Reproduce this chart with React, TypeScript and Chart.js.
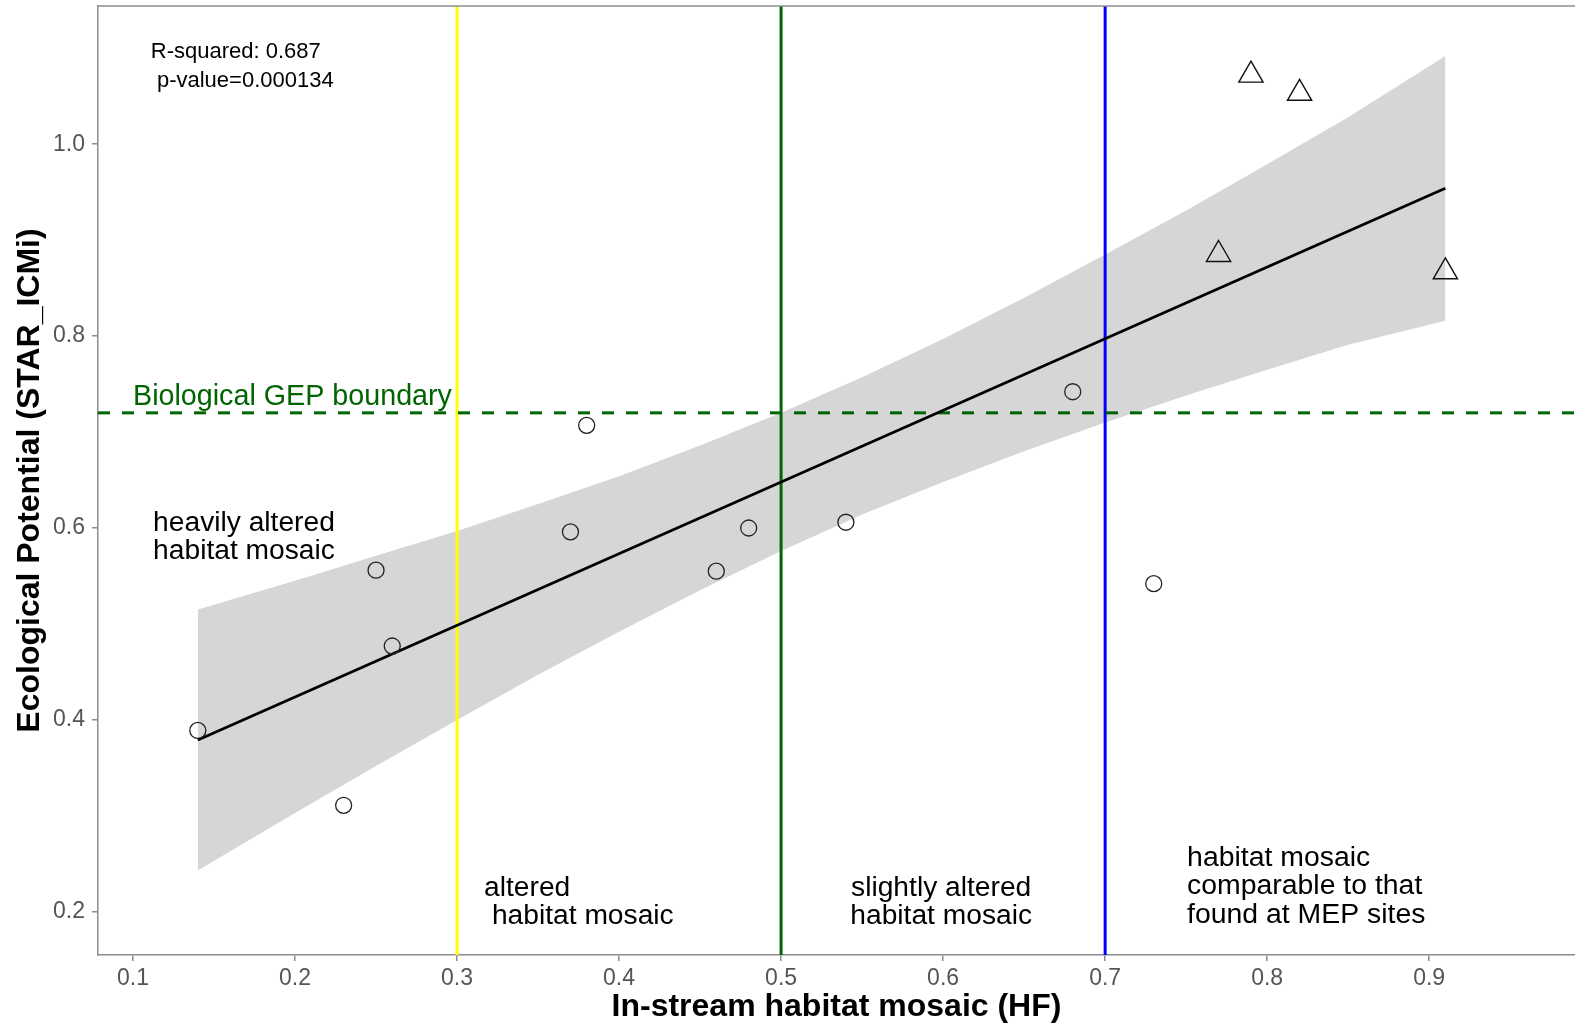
import React, { useEffect, useRef } from "react";
import { Chart, registerables } from "chart.js";

Chart.register(...registerables);

// ---- axis ranges & ticks ----
const xMin = 0.0784;
const xMax = 0.99;
const yMin = 0.155;
const yMax = 1.144;
const xTicks = [0.1, 0.2, 0.3, 0.4, 0.5, 0.6, 0.7, 0.8, 0.9];
const yTicks = [0.2, 0.4, 0.6, 0.8, 1.0];

// ---- observed sites (circles) ----
const circleX = [0.14, 0.23, 0.25, 0.26, 0.37, 0.38, 0.46, 0.48, 0.54, 0.68, 0.73];
const circleY = [0.389, 0.311, 0.556, 0.477, 0.596, 0.707, 0.555, 0.6, 0.606, 0.742, 0.542];

// ---- MEP sites (triangles) ----
const triangleX = [0.77, 0.79, 0.82, 0.91];
const triangleY = [0.885, 1.072, 1.053, 0.867];

// ---- regression fit and confidence band ----
const fitX = [0.14, 0.91];
const fitY = [0.379, 0.954];
const bandX = [0.14, 0.2, 0.25, 0.3, 0.35, 0.4, 0.45, 0.5, 0.55, 0.6, 0.65, 0.7, 0.75, 0.8, 0.85, 0.91];
const bandUpper = [0.515, 0.545, 0.571, 0.597, 0.625, 0.654, 0.686, 0.72, 0.757, 0.797, 0.84, 0.885, 0.931, 0.979, 1.028, 1.092];
const bandLower = [0.243, 0.303, 0.352, 0.4, 0.447, 0.492, 0.535, 0.576, 0.614, 0.648, 0.68, 0.71, 0.738, 0.765, 0.791, 0.816];

// ---- reference lines ----
const vLineX = [0.3, 0.5, 0.7];
const vLineColors = ["#ffff00", "#006400", "#0000ff"];
const gepY = 0.72;

// ---- texts ----
const xTitle = "In-stream habitat mosaic (HF)";
const yTitle = "Ecological Potential (STAR_ICMi)";

const FONT = "'Liberation Sans', Arial, Helvetica, sans-serif";
const AXIS_COLOR = "#8c8c8c";

type Annot = {
  lines: string[];
  x: number;
  y: number;
  align: CanvasTextAlign;
  size: number;
  lineHeight: number;
  color: string;
};

const annotations: Annot[] = [
  { lines: ["R-squared: 0.687", " p-value=0.000134"], x: 0.111, y: 1.0896, align: "left", size: 22, lineHeight: 29, color: "#000" },
  { lines: ["Biological GEP boundary"], x: 0.1, y: 0.728, align: "left", size: 28.7, lineHeight: 28, color: "#006400" },
  { lines: ["heavily altered", "habitat mosaic"], x: 0.1685, y: 0.5969, align: "center", size: 28.2, lineHeight: 28, color: "#000" },
  { lines: ["altered", " habitat mosaic"], x: 0.3167, y: 0.2167, align: "left", size: 28.2, lineHeight: 28, color: "#000" },
  { lines: ["slightly altered", "habitat mosaic"], x: 0.5988, y: 0.2167, align: "center", size: 28.2, lineHeight: 28, color: "#000" },
  { lines: ["habitat mosaic", "comparable to that", "found at MEP sites"], x: 0.7506, y: 0.2479, align: "left", size: 28.4, lineHeight: 28.5, color: "#000" },
];

const annotationPlugin = {
  id: "annotationText",
  afterDraw(chart: any) {
    const { ctx, chartArea, scales } = chart;
    ctx.save();
    ctx.strokeStyle = AXIS_COLOR;
    ctx.lineWidth = 1.5;
    ctx.beginPath();
    ctx.moveTo(chartArea.left, chartArea.top);
    ctx.lineTo(chartArea.right, chartArea.top);
    ctx.stroke();
    for (const a of annotations) {
      ctx.font = `${a.size}px ${FONT}`;
      ctx.fillStyle = a.color;
      ctx.textAlign = a.align;
      ctx.textBaseline = "alphabetic";
      const px = scales.x.getPixelForValue(a.x);
      const py = scales.y.getPixelForValue(a.y);
      a.lines.forEach((l, i) => ctx.fillText(l, px, py + i * a.lineHeight));
    }
    ctx.restore();
  },
};

const zeroPadding = (scale: any) => {
  scale.paddingTop = 0;
  scale.paddingBottom = 0;
  scale.paddingLeft = 0;
  scale.paddingRight = 0;
};

export default function App() {
  const ref = useRef<HTMLCanvasElement | null>(null);

  useEffect(() => {
    document.body.style.margin = "0";
    const canvas = ref.current;
    if (!canvas) return;

    const pts = (xs: number[], ys: number[]) => xs.map((x, i) => ({ x, y: ys[i] }));

    const vLineSets = vLineX.map((x, i) => ({
      type: "line" as const,
      data: [
        { x, y: yMin },
        { x, y: yMax },
      ],
      borderColor: vLineColors[i],
      borderWidth: 3,
      pointRadius: 0,
      fill: false,
      order: 3,
    }));

    const chart = new Chart(canvas, {
      type: "scatter",
      data: {
        datasets: [
          {
            type: "line",
            data: pts(bandX, bandUpper),
            borderWidth: 0,
            borderColor: "rgba(0,0,0,0)",
            backgroundColor: "rgb(214,214,214)",
            pointRadius: 0,
            fill: "+1",
            order: 5,
          },
          {
            type: "line",
            data: pts(bandX, bandLower),
            borderWidth: 0,
            borderColor: "rgba(0,0,0,0)",
            pointRadius: 0,
            fill: false,
            order: 6,
          },
          ...vLineSets,
          {
            type: "line",
            data: [
              { x: xMin, y: gepY },
              { x: xMax, y: gepY },
            ],
            borderColor: "#006400",
            borderWidth: 3,
            borderDash: [12, 12],
            pointRadius: 0,
            fill: false,
            order: 2,
          },
          {
            type: "line",
            data: pts(fitX, fitY),
            borderColor: "#000",
            borderWidth: 2.8,
            pointRadius: 0,
            fill: false,
            order: 1,
          },
          {
            data: pts(circleX, circleY),
            pointStyle: "circle",
            pointRadius: 8,
            borderColor: "#222",
            borderWidth: 1.3,
            backgroundColor: "rgba(0,0,0,0)",
            order: 0,
          },
          {
            data: pts(triangleX, triangleY),
            pointStyle: "triangle",
            pointRadius: 14,
            borderColor: "#111",
            borderWidth: 1.4,
            backgroundColor: "rgba(0,0,0,0)",
            order: 0,
          },
        ] as any,
      },
      options: {
        animation: false,
        responsive: false,
        devicePixelRatio: 1,
        events: [],
        layout: { autoPadding: false, padding: { top: 6, right: 0, bottom: 0, left: 0 } },
        plugins: {
          legend: { display: false },
          tooltip: { enabled: false },
        },
        scales: {
          x: {
            type: "linear",
            position: "bottom",
            min: xMin,
            max: xMax,
            afterBuildTicks: (scale: any) => {
              scale.ticks = xTicks.map((v) => ({ value: v }));
            },
            afterFit: (scale: any) => {
              scale.height = 75;
              zeroPadding(scale);
            },
            grid: {
              drawOnChartArea: false,
              drawTicks: true,
              tickLength: 6,
              tickColor: AXIS_COLOR,
              lineWidth: 1.5,
              color: AXIS_COLOR,
            },
            border: { display: true, color: AXIS_COLOR, width: 1.5 },
            ticks: {
              autoSkip: false,
              maxRotation: 0,
              padding: 4,
              color: "#555",
              font: { family: FONT, size: 23 },
              callback: (v: any) => Number(v).toFixed(1),
            },
            title: {
              display: true,
              text: xTitle,
              color: "#000",
              font: { family: FONT, size: 32, weight: "bold" },
              padding: { top: 0, bottom: 4 },
            },
          },
          y: {
            type: "linear",
            position: "left",
            min: yMin,
            max: yMax,
            afterBuildTicks: (scale: any) => {
              scale.ticks = yTicks.map((v) => ({ value: v }));
            },
            afterFit: (scale: any) => {
              scale.width = 98;
              zeroPadding(scale);
            },
            grid: {
              drawOnChartArea: false,
              drawTicks: true,
              tickLength: 6,
              tickColor: AXIS_COLOR,
              lineWidth: 1.5,
              color: AXIS_COLOR,
            },
            border: { display: true, color: AXIS_COLOR, width: 1.5 },
            ticks: {
              autoSkip: false,
              padding: 7,
              color: "#555",
              font: { family: FONT, size: 23 },
              callback: (v: any) => Number(v).toFixed(1),
            },
            title: {
              display: true,
              text: yTitle,
              color: "#000",
              font: { family: FONT, size: 32, weight: "bold" },
              padding: { top: 11, bottom: 0 },
            },
          },
        },
      },
      plugins: [annotationPlugin],
    } as any);

    return () => chart.destroy();
  }, []);

  return (
    <div style={{ position: "absolute", left: 0, top: 0, width: 1575, height: 1030, background: "#fff" }}>
      <canvas ref={ref} width={1575} height={1030} style={{ width: 1575, height: 1030, display: "block" }} />
    </div>
  );
}
